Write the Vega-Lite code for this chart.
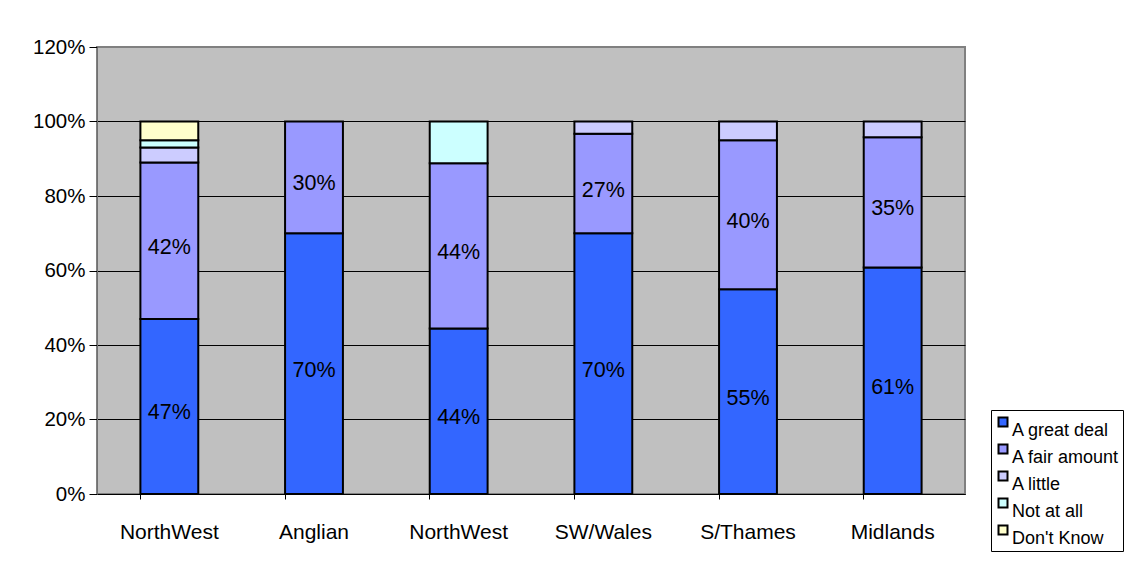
{
  "$schema": "https://vega.github.io/schema/vega-lite/v6.json",
  "width": 868,
  "height": 447,
  "autosize": {"type": "none"},
  "padding": {"left": 97, "top": 47, "right": 166, "bottom": 68},
  "background": "white",
  "data": {
    "values": [
      {"region": "NorthWest|1", "answer": "A great deal", "rank": 1, "value": 0.47},
      {"region": "NorthWest|1", "answer": "A fair amount", "rank": 2, "value": 0.42},
      {"region": "NorthWest|1", "answer": "A little", "rank": 3, "value": 0.04},
      {"region": "NorthWest|1", "answer": "Not at all", "rank": 4, "value": 0.02},
      {"region": "NorthWest|1", "answer": "Don't Know", "rank": 5, "value": 0.05},
      {"region": "Anglian|2", "answer": "A great deal", "rank": 1, "value": 0.70},
      {"region": "Anglian|2", "answer": "A fair amount", "rank": 2, "value": 0.30},
      {"region": "NorthWest|3", "answer": "A great deal", "rank": 1, "value": 0.444},
      {"region": "NorthWest|3", "answer": "A fair amount", "rank": 2, "value": 0.444},
      {"region": "NorthWest|3", "answer": "Not at all", "rank": 4, "value": 0.112},
      {"region": "SW/Wales|4", "answer": "A great deal", "rank": 1, "value": 0.70},
      {"region": "SW/Wales|4", "answer": "A fair amount", "rank": 2, "value": 0.267},
      {"region": "SW/Wales|4", "answer": "A little", "rank": 3, "value": 0.033},
      {"region": "S/Thames|5", "answer": "A great deal", "rank": 1, "value": 0.55},
      {"region": "S/Thames|5", "answer": "A fair amount", "rank": 2, "value": 0.40},
      {"region": "S/Thames|5", "answer": "A little", "rank": 3, "value": 0.05},
      {"region": "Midlands|6", "answer": "A great deal", "rank": 1, "value": 0.608},
      {"region": "Midlands|6", "answer": "A fair amount", "rank": 2, "value": 0.35},
      {"region": "Midlands|6", "answer": "A little", "rank": 3, "value": 0.042}
    ]
  },
  "encoding": {
    "x": {
      "field": "region",
      "type": "nominal",
      "sort": null,
      "scale": {"paddingInner": 0.6, "paddingOuter": 0.3},
      "axis": {
        "title": null,
        "labelAngle": 0,
        "labelExpr": "split(datum.value, '|')[0]",
        "labelFont": "Liberation Sans",
        "labelFontSize": 21,
        "labelColor": "black",
        "labelPadding": 22,
        "ticks": true,
        "bandPosition": 0,
        "tickSize": 5,
        "tickColor": "black",
        "domainColor": "black",
        "domainWidth": 1,
        "grid": false
      }
    }
  },
  "layer": [
    {
      "mark": {"type": "bar", "stroke": "black", "strokeWidth": 2},
      "encoding": {
        "y": {
          "field": "value",
          "type": "quantitative",
          "stack": "zero",
          "scale": {"domain": [0, 1.2], "nice": false},
          "axis": {
            "title": null,
            "format": ".0%",
            "values": [0, 0.2, 0.4, 0.6, 0.8, 1.0, 1.2],
            "grid": true,
            "gridColor": {"condition": {"test": "datum.value >= 1.19", "value": "#808080"}, "value": "black"},
            "gridWidth": 1,
            "gridOpacity": 1,
            "domainColor": "#707070",
            "domainWidth": 1,
            "tickColor": "black",
            "tickSize": 8,
            "labelFont": "Liberation Sans",
            "labelFontSize": 20.5,
            "labelColor": "black",
            "labelPadding": 4
          }
        },
        "color": {
          "field": "answer",
          "type": "nominal",
          "sort": ["A great deal", "A fair amount", "A little", "Not at all", "Don't Know"],
          "scale": {
            "domain": ["A great deal", "A fair amount", "A little", "Not at all", "Don't Know"],
            "range": ["#3366FF", "#9999FF", "#CCCCFF", "#CCFFFF", "#FFFFCC"]
          },
          "legend": {
            "title": null,
            "orient": "none",
            "legendX": 894,
            "legendY": 363,
            "strokeColor": "black",
            "fillColor": "white",
            "padding": 3,
            "symbolType": "square",
            "symbolSize": 81,
            "symbolStrokeColor": "black",
            "symbolStrokeWidth": 2,
            "symbolOpacity": 1,
            "labelFont": "Liberation Sans",
            "labelFontSize": 18,
            "labelColor": "black",
            "labelBaseline": "top",
            "labelOffset": 0,
            "rowPadding": 0
          }
        },
        "order": {"field": "rank", "type": "quantitative"}
      }
    },
    {
      "transform": [
        {"stack": "value", "groupby": ["region"], "sort": [{"field": "rank", "order": "ascending"}], "as": ["v0", "v1"]},
        {"filter": "datum.rank <= 2"},
        {"fold": ["v0", "v1"], "as": ["edge", "pos"]},
        {"aggregate": [{"op": "mean", "field": "pos", "as": "mid"}], "groupby": ["region", "answer", "value"]}
      ],
      "mark": {"type": "text", "font": "Liberation Sans", "fontSize": 21.5, "color": "black", "baseline": "middle", "dy": 7},
      "encoding": {
        "y": {"field": "mid", "type": "quantitative", "stack": null},
        "text": {"field": "value", "type": "quantitative", "format": ".0%"}
      }
    }
  ],
  "config": {
    "view": {"stroke": "#808080", "strokeWidth": 2, "fill": "#C0C0C0"}
  }
}
